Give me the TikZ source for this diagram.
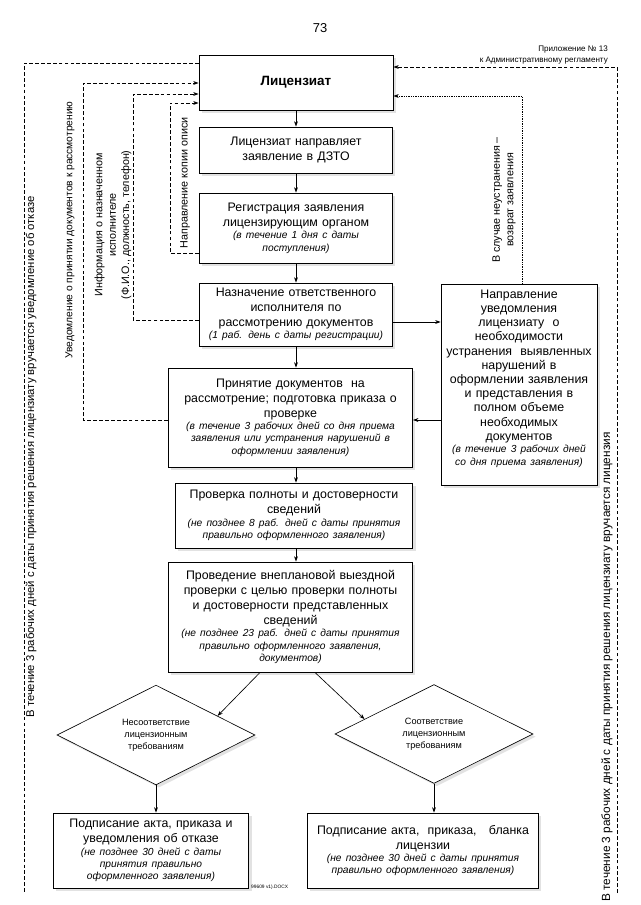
\documentclass[tikz,border=0pt]{standalone}
\usepackage{fontspec}
\setmainfont{Liberation Sans}
\usetikzlibrary{arrows.meta,shapes.geometric,shadows,calc}
\newcommand{\bxnote}{\fontsize{9.5}{11.5}\selectfont\itshape}
\begin{document}
\begin{tikzpicture}[x=0.9297pt,y=-0.9297pt,
  shd/.style={drop shadow={shadow xshift=2.5pt,shadow yshift=-2.5pt,fill=gray!45}},
  box/.style={draw,line width=0.8pt,fill=white,shd,align=center,inner xsep=2pt,inner ysep=1pt,
    font=\fontsize{11.5}{14}\selectfont},
  dia/.style={diamond,draw,line width=0.6pt,fill=white,shd,align=center,inner sep=0pt,
    minimum width=184pt,minimum height=92pt,font=\fontsize{8.5}{11}\selectfont},
  lbl/.style={inner sep=0pt,font=\fontsize{10}{12.5}\selectfont},
  olbl/.style={inner sep=0pt,font=\fontsize{10.5}{12.5}\selectfont},
  arr/.style={-{Stealth[length=5pt,width=3.6pt]},line width=0.6pt},
  dsh/.style={dash pattern=on 3.5pt off 2pt,line width=0.6pt},
  dtt/.style={dash pattern=on 0.7pt off 0.9pt,line width=0.6pt}
]
\useasboundingbox (0,0) rectangle (640,905);

% header
\node[font=\fontsize{12}{14}\selectfont] (pg) at (320,28) {73};
\node[anchor=east,inner sep=0pt,font=\fontsize{7.5}{9}\selectfont] (pr1) at (608,50) {Приложение № 13};
\node[anchor=east,inner sep=0pt,font=\fontsize{7.5}{9}\selectfont] (pr2) at (608,61) {к Административному регламенту};

% boxes
\node[box,minimum width=180.4pt,minimum height=51.1pt,font=\fontsize{12.5}{15}\selectfont\bfseries] (lic) at (296,82.5) {Лицензиат};
\node[box,text width=176pt,minimum height=42.8pt] (b2) at (296,150) {Лицензиат направляет\\заявление в ДЗТО};
\node[box,text width=176pt,minimum height=65.1pt] (b3) at (296,228) {Регистрация заявления\\лицензирующим органом\par{\bxnote (в течение 1 дня с даты\\поступления)\par}};
\node[box,text width=176pt,minimum height=58.6pt] (b4) at (296,314.5) {Назначение ответственного\\исполнителя по\\рассмотрению документов\par{\bxnote (1 раб. день с даты регистрации)\par}};
\node[box,text width=223pt,minimum height=92pt] (b5) at (290.5,417.5) {Принятие документов\ \ на\\рассмотрение; подготовка приказа о\\проверке\par{\bxnote (в течение 3 рабочих дней со дня приема\\заявления или устранения нарушений в\\оформлении заявления)\par}};
\node[box,text width=217pt,minimum height=60.4pt] (b6) at (294,515.5) {Проверка полноты и достоверности\\сведений\par{\bxnote (не позднее 8 раб. дней с даты принятия\\правильно оформленного заявления)\par}};
\node[box,text width=223pt,minimum height=102.3pt] (b7) at (290.5,617) {Проведение внеплановой выездной\\проверки с целью проверки полноты\\и достоверности представленных\\сведений\par{\bxnote (не позднее 23 раб. дней с даты принятия\\правильно оформленного заявления,\\документов)\par}};
\node[box,minimum width=145pt,minimum height=186.9pt] (rb) at (519,384.5) {};
\node[anchor=north,align=center,inner sep=0pt,font=\fontsize{11.5}{13.2}\selectfont,text width=141pt] (rbt) at ($(rb.north)+(0,6)$) {Направление\\уведомления\\лицензиату\ \ о\\необходимости\\устранения\ \ выявленных\\нарушений в\\оформлении заявления\\и представления в\\полном объеме\\необходимых\\документов\par{\bxnote (в течение 3 рабочих дней\\со дня приема заявления)\par}};

\node[dia] (dl) at (156,735) {Несоответствие\\лицензионным\\требованиям};
\node[dia] (dr) at (434,734) {Соответствие\\лицензионным\\требованиям};

\node[box,text width=178pt,minimum height=69.7pt] (bl) at (151,850.5) {Подписание акта, приказа и\\уведомления об отказе\par{\bxnote (не позднее 30 дней с даты\\принятия правильно\\оформленного заявления)\par}};
\node[box,text width=211pt,minimum height=69.7pt] (br) at (423,850.5) {Подписание акта,\ \ приказа,\ \ \ бланка\\лицензии\par{\bxnote (не позднее 30 дней с даты принятия\\правильно оформленного заявления)\par}};
\node[anchor=west,inner sep=0pt,font=\fontsize{4.5}{5}\selectfont] (doc) at (251,887) {99609 v1).DOCX};

% rotated labels
\node[olbl,rotate=90] (t1) at (31,457) {В течение 3 рабочих дней с даты принятия решения лицензиату вручается уведомление об отказе};
\node[olbl,rotate=90,font=\fontsize{11}{13}\selectfont] (t2) at (607,667) {В течение 3 рабочих дней с даты принятия решения лицензиату вручается лицензия};
\node[lbl,rotate=90,font=\fontsize{9.5}{12}\selectfont] (t3) at (70,230) {Уведомление о принятии документов к рассмотрению};
\node[lbl,rotate=90,align=center] (t4) at (113,225) {Информация о назначенном\\исполнителе\\(Ф.И.О., должность, телефон)};
\node[lbl,rotate=90] (t5) at (185,183) {Направление копии описи};
\node[lbl,rotate=90,align=center] (t6) at (504,200) {В случае неустранения –\\возврат заявления};

% coordinates
\coordinate (c1) at (24,63);  \coordinate (c2) at (24,893);
\coordinate (l2b) at (83,420); \coordinate (l2t) at (83,83);
\coordinate (l3b) at (133,320); \coordinate (l3t) at (133,94);
\coordinate (l4b) at (170,253); \coordinate (l4t) at (170,103);
\coordinate (r1b) at (617,893); \coordinate (r1t) at (617,67);
\coordinate (d1) at (522,96);
\coordinate (h1) at (0,322); \coordinate (h2) at (0,420);
\coordinate (vx) at (296,0);
\coordinate (s1) at (260,0); \coordinate (s2) at (315,0);

% dashed / dotted connectors
\draw[dsh] (lic.west |- c1) -- (c1) -- (c2);
\draw[dsh,arr] (b5.west |- l2b) -- (l2b) -- (l2t) -- (lic.west |- l2t);
\draw[dsh,arr] (b4.west |- l3b) -- (l3b) -- (l3t) -- (lic.west |- l3t);
\draw[dsh,arr] (b3.west |- l4b) -- (l4b) -- (l4t) -- (lic.west |- l4t);
\draw[dsh,arr] (r1b) -- (r1t) -- (lic.east |- r1t);
\draw[dtt,arr] (rb.north -| d1) -- (d1) -- (lic.east |- d1);

% solid connectors
\draw[arr] (lic.south -| vx) -- (b2.north -| vx);
\draw[arr] (b2.south -| vx) -- (b3.north -| vx);
\draw[arr] (b3.south -| vx) -- (b4.north -| vx);
\draw[arr] (b4.south -| vx) -- (b5.north -| vx);
\draw[arr] (b5.south -| vx) -- (b6.north -| vx);
\draw[arr] (b6.south -| vx) -- (b7.north -| vx);
\draw[arr] (b4.east |- h1) -- (rb.west |- h1);
\draw[arr] (rb.west |- h2) -- (b5.east |- h2);
\draw[arr] (b7.south -| s1) -- ($(dl.north)!0.62!(dl.east)$);
\draw[arr] (b7.south -| s2) -- ($(dr.north)!0.7!(dr.west)$);
\draw[arr] (dl.south) -- (dl.south |- bl.north);
\draw[arr] (dr.south) -- (dr.south |- br.north);
\end{tikzpicture}
\end{document}
